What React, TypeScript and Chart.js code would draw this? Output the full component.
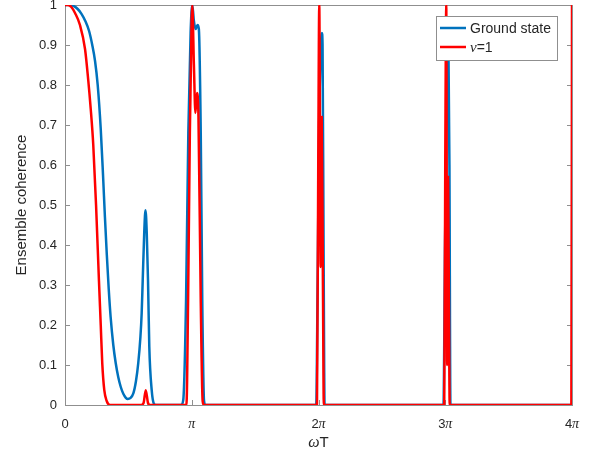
import React, { useEffect, useRef } from 'react';
import { Chart, registerables } from 'chart.js';

Chart.register(...registerables);

// x values are in units of pi (omega*T / pi)
const groundX = [0, 0.04, 0.07, 0.1, 0.13, 0.16, 0.19, 0.215, 0.237, 0.258, 0.282, 0.3, 0.315, 0.33, 0.345, 0.36, 0.381, 0.4, 0.42, 0.44, 0.46, 0.48, 0.495, 0.515, 0.539, 0.56, 0.578, 0.595, 0.605, 0.613, 0.625, 0.635, 0.645, 0.655, 0.665, 0.684, 0.702, 0.72,
  0.915, 0.933, 0.955, 0.973, 0.991, 1.004, 1.017, 1.03, 1.046, 1.056, 1.071, 1.083, 1.097, 1.108,
  1.982, 1.993, 2.005, 2.017, 2.027, 2.032, 2.04, 2.048,
  2.986, 2.998, 3.014, 3.025, 3.033, 3.041, 4.0];
const groundY = [1, 1, 0.997, 0.99, 0.978, 0.96, 0.935, 0.9, 0.86, 0.8, 0.69, 0.575, 0.47, 0.375, 0.29, 0.22, 0.15, 0.105, 0.07, 0.045, 0.028, 0.018, 0.015, 0.017, 0.029, 0.06, 0.105, 0.17, 0.23, 0.31, 0.43, 0.487, 0.43, 0.31, 0.146, 0.037, 0.003, 0,
  0, 0.0125, 0.26, 0.68, 0.93, 1.0, 0.96, 0.94, 0.95, 0.94, 0.68, 0.26, 0.01, 0,
  0, 0.3, 0.7, 0.88, 0.93, 0.9, 0.4, 0,
  0, 0.4, 0.8, 0.9, 0.6, 0, 0];

const nuX = [0, 0.024, 0.05, 0.079, 0.118, 0.158, 0.184, 0.203, 0.223, 0.245, 0.268, 0.282, 0.294, 0.31, 0.329, 0.355,
  0.6, 0.62, 0.637, 0.655, 0.67,
  0.958, 0.971, 0.985, 0.999, 1.004, 1.017, 1.029, 1.041, 1.053, 1.071, 1.086, 1.097,
  1.988, 1.998, 2.006, 2.017, 2.025, 2.035, 2.042,
  2.992, 3.0, 3.008, 3.015, 3.022, 3.03, 3.035,
  3.995, 4.0];
const nuY = [1, 1, 0.995, 0.98, 0.95, 0.89, 0.81, 0.74, 0.65, 0.5, 0.31, 0.2, 0.104, 0.037, 0.01, 0,
  0, 0.005, 0.037, 0.005, 0,
  0, 0.26, 0.68, 0.96, 1.0, 0.85, 0.73, 0.78, 0.72, 0.26, 0.01, 0,
  0, 0.6, 1.0, 0.345, 0.72, 0.3, 0,
  0, 0.6, 1.0, 0.1, 0.57, 0.2, 0,
  0, 1];

const xTickValues = [0, 1, 2, 3, 4];
const xTickNumbers = ['0', '', '2', '3', '4'];
const xTickHasPi = [false, true, true, true, true];
const yTickValues = [0, 0.1, 0.2, 0.3, 0.4, 0.5, 0.6, 0.7, 0.8, 0.9, 1];
const seriesNames = ['Ground state', '=1'];
const seriesColors = ['#0072BD', '#FF0000'];

const SANS = '"Liberation Sans", Arial, Helvetica, sans-serif';
const SERIF = '"Liberation Serif", "Times New Roman", serif';
const AXIS = '#8f8f8f';
const TEXT = '#262626';

const framePlugin = {
  id: 'matlabFrame',
  beforeDatasetsDraw(chart: any) {
    const { ctx, chartArea: a, scales } = chart;
    ctx.save();
    ctx.strokeStyle = AXIS;
    ctx.lineWidth = 1;
    ctx.strokeRect(Math.round(a.left) + 0.5, Math.round(a.top) + 0.5, Math.round(a.right - a.left), Math.round(a.bottom - a.top));
    const tl = 5;
    ctx.beginPath();
    for (const v of xTickValues) {
      const px = Math.round(scales.x.getPixelForValue(v)) + 0.5;
      ctx.moveTo(px, a.bottom);
      ctx.lineTo(px, a.bottom - tl);
      ctx.moveTo(px, a.top);
      ctx.lineTo(px, a.top + tl);
    }
    for (const v of yTickValues) {
      const py = Math.round(scales.y.getPixelForValue(v)) + 0.5;
      ctx.moveTo(a.left, py);
      ctx.lineTo(a.left + tl, py);
      ctx.moveTo(a.right, py);
      ctx.lineTo(a.right - tl, py);
    }
    ctx.stroke();
    ctx.restore();
  },
  afterDraw(chart: any) {
    const { ctx, chartArea: a, scales } = chart;
    ctx.save();
    ctx.fillStyle = TEXT;
    ctx.textBaseline = 'alphabetic';
    // x tick labels
    const numFont = `13px ${SANS}`;
    const piFont = `italic 14px ${SERIF}`;
    xTickValues.forEach((v, i) => {
      const px = scales.x.getPixelForValue(v);
      ctx.font = numFont;
      const wn = ctx.measureText(xTickNumbers[i]).width;
      ctx.font = piFont;
      const wp = xTickHasPi[i] ? ctx.measureText('\u03C0').width : 0;
      const x0 = px - (wn + wp) / 2;
      const base = a.bottom + 23;
      ctx.textAlign = 'left';
      ctx.font = numFont;
      ctx.fillText(xTickNumbers[i], x0, base);
      if (xTickHasPi[i]) {
        ctx.font = piFont;
        ctx.fillText('\u03C0', x0 + wn, base);
      }
    });
    // x title
    {
      const omegaFont = `italic 16px ${SERIF}`;
      const tFont = `15px ${SANS}`;
      ctx.font = omegaFont;
      const w1 = ctx.measureText('\u03C9').width;
      ctx.font = tFont;
      const w2 = ctx.measureText('T').width;
      const cx = (a.left + a.right) / 2;
      const x0 = cx - (w1 + w2) / 2;
      const base = a.bottom + 42;
      ctx.textAlign = 'left';
      ctx.font = omegaFont;
      ctx.fillText('\u03C9', x0, base);
      ctx.font = tFont;
      ctx.fillText('T', x0 + w1, base);
    }
    // y title
    {
      ctx.save();
      ctx.translate(26, (a.top + a.bottom) / 2);
      ctx.rotate(-Math.PI / 2);
      ctx.font = `15px ${SANS}`;
      ctx.textAlign = 'center';
      ctx.fillText('Ensemble coherence', 0, 0);
      ctx.restore();
    }
    // legend
    {
      const bx = a.right - 136, by = a.top + 11, bw = 121, bh = 44;
      ctx.fillStyle = '#ffffff';
      ctx.fillRect(bx, by, bw, bh);
      ctx.strokeStyle = AXIS;
      ctx.lineWidth = 1;
      ctx.strokeRect(bx + 0.5, by + 0.5, bw, bh);
      const rows = [by + 12, by + 31];
      rows.forEach((ry, i) => {
        ctx.strokeStyle = seriesColors[i];
        ctx.lineWidth = 2.5;
        ctx.beginPath();
        ctx.moveTo(bx + 4, ry);
        ctx.lineTo(bx + 30, ry);
        ctx.stroke();
        ctx.fillStyle = TEXT;
        ctx.textAlign = 'left';
        ctx.textBaseline = 'middle';
        if (i === 0) {
          ctx.font = `14px ${SANS}`;
          ctx.fillText(seriesNames[0], bx + 34, ry + 1);
        } else {
          ctx.font = `italic 15px ${SERIF}`;
          ctx.fillText('\u03BD', bx + 34, ry + 1);
          const wv = ctx.measureText('\u03BD').width;
          ctx.font = `14px ${SANS}`;
          ctx.fillText(seriesNames[1], bx + 34 + wv, ry + 1);
        }
      });
    }
    ctx.restore();
  },
};

export default function App() {
  const canvasRef = useRef<HTMLCanvasElement | null>(null);
  useEffect(() => {
    if (!canvasRef.current) return;
    const chart = new Chart(canvasRef.current, {
      type: 'line',
      data: {
        datasets: [
          {
            label: seriesNames[0],
            data: groundX.map((x, i) => ({ x, y: groundY[i] })),
            borderColor: seriesColors[0],
            borderWidth: 2.5,
            pointRadius: 0,
            cubicInterpolationMode: 'monotone',
            fill: false,
            order: 1,
          },
          {
            label: seriesNames[1],
            data: nuX.map((x, i) => ({ x, y: nuY[i] })),
            borderColor: seriesColors[1],
            borderWidth: 2.5,
            pointRadius: 0,
            cubicInterpolationMode: 'monotone',
            fill: false,
            order: 0,
          },
        ],
      },
      options: {
        responsive: false,
        animation: false,
        devicePixelRatio: 1,
        layout: { padding: { top: 5, right: 25, left: 0, bottom: 0 } },
        plugins: { legend: { display: false }, tooltip: { enabled: false } },
        scales: {
          x: {
            type: 'linear',
            min: 0,
            max: 4,
            ticks: { display: false, stepSize: 1 },
            grid: { display: false, drawTicks: false },
            border: { display: false },
            afterFit: (s: any) => { s.height = 52; s.paddingLeft = 0; s.paddingRight = 0; },
          },
          y: {
            min: 0,
            max: 1,
            ticks: {
              stepSize: 0.1,
              color: TEXT,
              padding: 8,
              font: { family: SANS, size: 13 },
              callback: (v: any) => String(Math.round(Number(v) * 10) / 10),
            },
            grid: { display: false, drawTicks: false },
            border: { display: false },
            afterFit: (s: any) => { s.width = 65; s.paddingTop = 0; s.paddingBottom = 0; },
          },
        },
      },
      plugins: [framePlugin],
    } as any);
    return () => chart.destroy();
  }, []);
  return (
    <div style={{ position: 'fixed', left: 0, top: 0, width: 597, height: 457, background: '#fff' }}>
      <canvas ref={canvasRef} width={597} height={457} style={{ display: 'block' }} />
    </div>
  );
}
